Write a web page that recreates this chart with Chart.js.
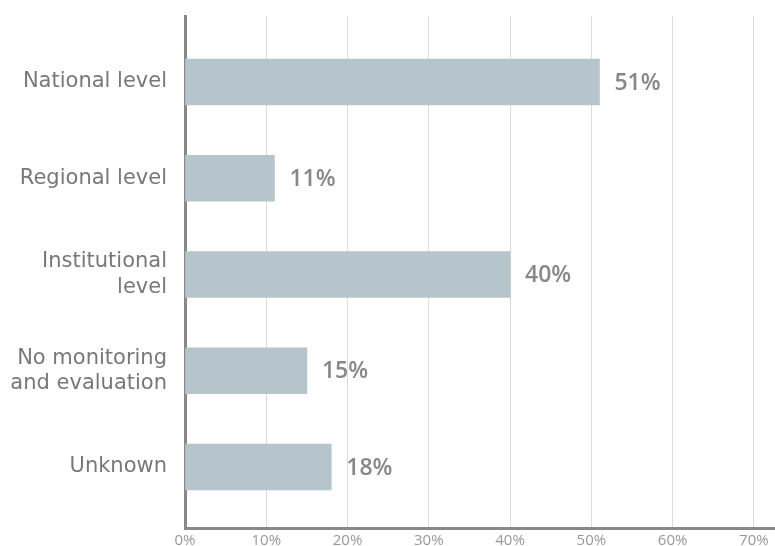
<!DOCTYPE html>
<html>
<head>
<meta charset="utf-8">
<script src="https://cdn.jsdelivr.net/npm/chart.js@4/dist/chart.umd.min.js"></script>
<style>
  html, body { margin: 0; padding: 0; background: #fff; }
  #wrap { width: 775px; height: 546px; position: relative; }
</style>
</head>
<body>
<div id="wrap"><canvas id="chart"></canvas></div>
<script>
const categories = [
  ['National level'],
  ['Regional level'],
  ['Institutional', 'level'],
  ['No monitoring', 'and evaluation'],
  ['Unknown']
];
const shares = [51, 11, 40, 15, 18];
const xTicks = [0, 10, 20, 30, 40, 50, 60, 70];

const labelFont = '"DejaVu Sans", sans-serif';
const numFont = '"Open Sans", "DejaVu Sans", sans-serif';

// value labels at the end of each bar
const valueLabels = {
  id: 'valueLabels',
  afterDatasetsDraw(chart) {
    const ctx = chart.ctx;
    const meta = chart.getDatasetMeta(0);
    ctx.save();
    ctx.font = '600 23px ' + numFont;
    ctx.fillStyle = '#888';
    ctx.textAlign = 'left';
    ctx.textBaseline = 'middle';
    meta.data.forEach((bar, i) => {
      ctx.fillText(shares[i] + '%', bar.x + 15, bar.y + 1);
    });
    ctx.restore();
  }
};

new Chart(document.getElementById('chart'), {
  type: 'bar',
  data: {
    datasets: [{
      data: shares.map((v, i) => ({ x: v, y: i })),
      backgroundColor: '#b6c4cb',
      borderWidth: 0,
      barThickness: 46
    }]
  },
  options: {
    indexAxis: 'y',
    responsive: true,
    maintainAspectRatio: false,
    animation: false,
    layout: { padding: { top: 16, left: 0, right: 0, bottom: 0 } },
    plugins: { legend: { display: false }, tooltip: { enabled: false } },
    scales: {
      x: {
        type: 'linear',
        min: 0,
        max: 72.6,
        afterBuildTicks: s => { s.ticks = xTicks.map(v => ({ value: v })); },
        afterFit: s => { s.height = 18; s.paddingLeft = 0; s.paddingRight = 0; },
        grid: { color: '#dcdcdc', lineWidth: 1, drawTicks: false },
        border: { color: '#888', width: 3 },
        ticks: {
          color: '#999',
          padding: 4,
          font: { family: numFont, size: 15 },
          callback: v => v + '%'
        }
      },
      y: {
        type: 'linear',
        reverse: true,
        offset: false,
        min: -0.686,
        max: 4.634,
        afterBuildTicks: s => { s.ticks = categories.map((c, i) => ({ value: i })); },
        afterFit: s => { s.width = 185; s.paddingTop = 0; s.paddingBottom = 0; },
        grid: { display: false, drawTicks: false, offset: false },
        border: { color: '#888', width: 3 },
        ticks: {
          color: '#787878',
          padding: 18,
          font: { family: labelFont, size: 21, lineHeight: 1.2 },
          callback: v => categories[v]
        }
      }
    }
  },
  plugins: [valueLabels]
});
</script>
</body>
</html>
